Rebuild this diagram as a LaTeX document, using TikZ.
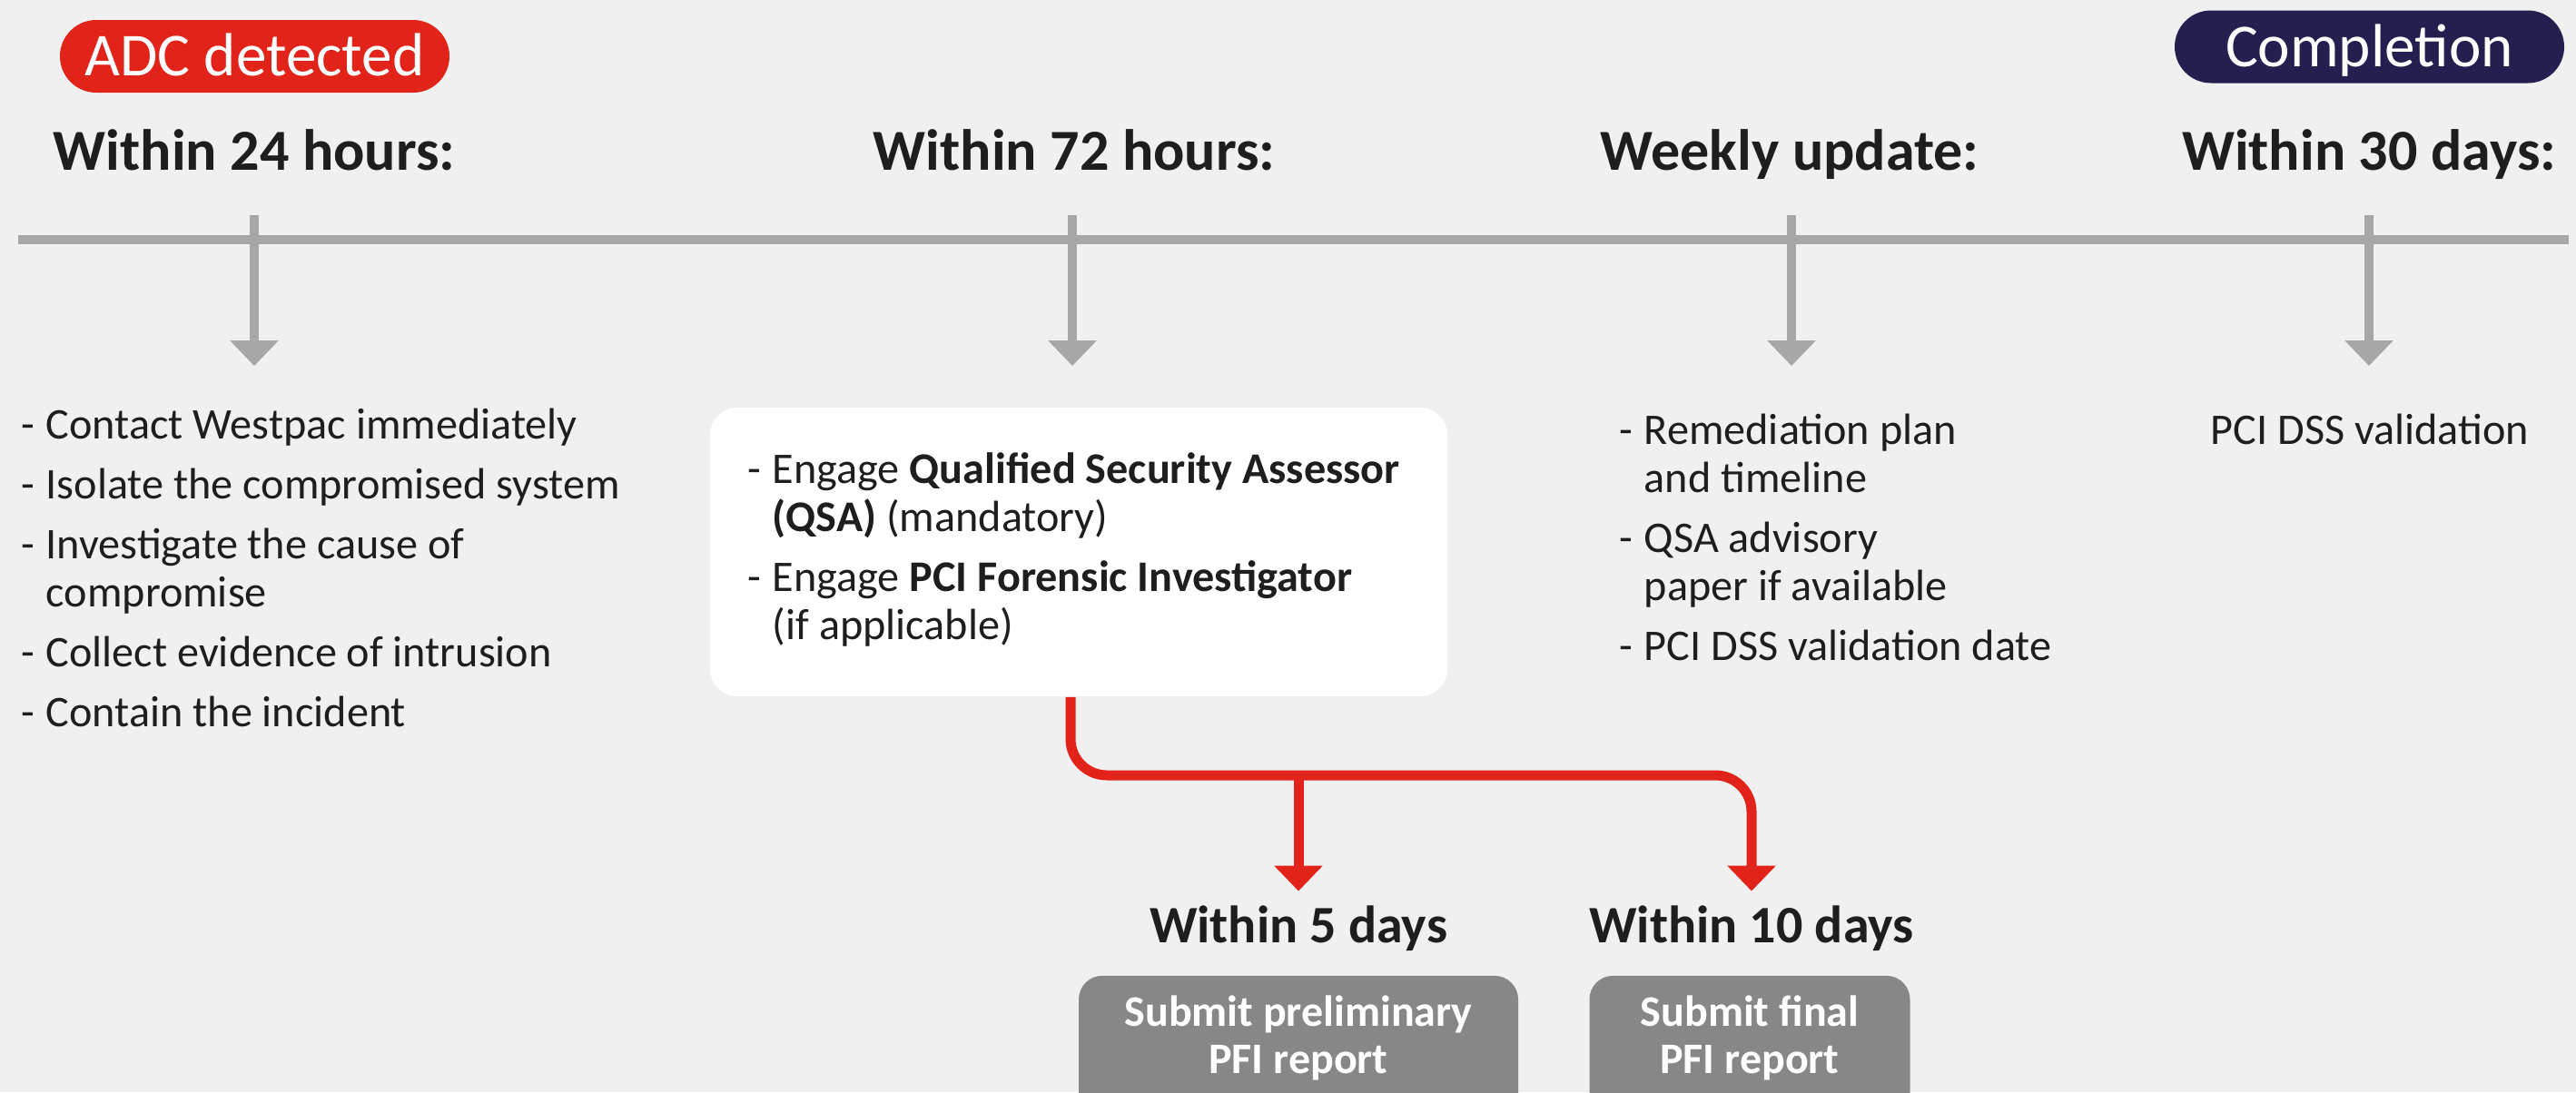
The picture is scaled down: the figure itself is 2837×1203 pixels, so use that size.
\documentclass[tikz,border=0pt]{standalone}
\usepackage{fontspec}
\setmainfont{Carlito}
\usetikzlibrary{arrows.meta,calc}
\definecolor{bg}{HTML}{F0F0F0}
\definecolor{ink}{HTML}{1E1E1E}
\definecolor{lgrey}{HTML}{A7A7A7}
\definecolor{wred}{HTML}{E2231A}
\definecolor{navy}{HTML}{23204F}
\definecolor{boxgrey}{HTML}{878787}
\newcommand{\mydash}{\makebox[6.75pt][l]{-}}
\newcommand{\myind}{\hspace*{6.75pt}}
\newcommand{\mystrut}{\rule{0pt}{10pt}}
\tikzset{
  bodytxt/.style={inner sep=0pt, text=ink, align=left, anchor=north west,
    font=\fontsize{12.05}{13.25}\selectfont},
  hdr/.style={inner sep=0pt, text=ink, anchor=base,
    font=\bfseries\fontsize{16}{19}\selectfont},
  sublabel/.style={inner sep=0pt, text=ink, anchor=base,
    font=\bfseries\fontsize{14.5}{17}\selectfont},
  pill/.style={rounded corners=10pt, minimum width=107.25pt, minimum height=20pt,
    inner sep=0pt, text=white, font=\fontsize{16.8}{19}\selectfont,
    text height=10.8pt, text depth=0pt},
  greybox/.style={fill=boxgrey, rounded corners=6.5pt, inner sep=0pt,
    minimum height=45pt, anchor=north},
  greytxt/.style={inner sep=0pt, text=white, align=center, anchor=north,
    font=\bfseries\fontsize{12}{13}\selectfont},
  tick/.style={draw=lgrey, line width=2.5pt, -{Triangle[width=13pt,length=7pt]}},
  redline/.style={draw=wred, line width=2.75pt},
  redarrow/.style={redline, -{Triangle[width=13pt,length=7pt]}, shorten >=3.75pt},
}
\begin{document}
\begin{tikzpicture}[x=0.25pt,y=-0.25pt]
\path[fill=bg] (0,0) rectangle (2837,1203);
\useasboundingbox (0,0) rectangle (2837,1203);
\clip (0,0) rectangle (2837,1203);

% timeline
\coordinate (tl0) at (20,264);
\coordinate (tl1) at (2829,264);
\draw[lgrey, line width=2.5pt] (tl0) -- (tl1);

% tick coordinates
\coordinate (c24) at (280,237);  \coordinate (e24) at (280,403);
\coordinate (c72) at (1181,237); \coordinate (e72) at (1181,403);
\coordinate (cwk) at (1973,237); \coordinate (ewk) at (1973,403);
\coordinate (c30) at (2609,237); \coordinate (e30) at (2609,403);
\draw[tick] (c24) -- (e24);
\draw[tick] (c72) -- (e72);
\draw[tick] (cwk) -- (ewk);
\draw[tick] (c30) -- (e30);

% pills
\node[pill, fill=wred] (adc) at (280.5,62) {ADC detected};
\node[pill, fill=navy] (compl) at (2609.5,51.5) {Completion};

% headers
\node[hdr] (h24) at (280,187) {Within 24 hours:};
\node[hdr] (h72) at (1183,187) {Within 72 hours:};
\node[hdr] (hwk) at (1971,187) {Weekly update:};
\node[hdr] (h30) at (2609,187) {Within 30 days:};

% left list
\node[bodytxt] (list24) at (23,443) {\mystrut\mydash Contact Westpac immediately\\[3.25pt]
\mydash Isolate the compromised system\\[3.25pt]
\mydash Investigate the cause of\\
\myind compromise\\[3.25pt]
\mydash Collect evidence of intrusion\\[3.25pt]
\mydash Contain the incident};

% white box
\node[fill=white, rounded corners=7.5pt, minimum width=203pt, minimum height=79.5pt,
  inner sep=0pt] (qsa) at (1188,608) {};
\node[bodytxt] (qsatxt) at (823,492) {\mystrut\mydash Engage \textbf{Qualified Security Assessor}\\
\myind\textbf{(QSA)} (mandatory)\\[3.25pt]
\mydash Engage \textbf{PCI Forensic Investigator}\\
\myind(if applicable)};

% weekly list
\node[bodytxt] (listwk) at (1783,449) {\mystrut\mydash Remediation plan\\
\myind and timeline\\[3.25pt]
\mydash QSA advisory\\
\myind paper if available\\[3.25pt]
\mydash PCI DSS validation date};

% 30 days
\node[inner sep=0pt, text=ink, anchor=base, font=\fontsize{12.05}{13.25}\selectfont]
  (pci) at (2610,489) {PCI DSS validation};

% bottom labels
\node[sublabel] (lab5) at (1430,1038) {Within 5 days};
\node[sublabel] (lab10) at (1929,1038) {Within 10 days};

% red connectors
\coordinate (bus) at (0,854);
\draw[redarrow, rounded corners=10pt] (qsa.south -| 1179,0) -- (1179,854) -| (lab10.north);
\draw[redarrow] (lab5.north |- bus) -- (lab5.north);

% grey boxes
\node[greybox, minimum width=121pt] (sub1) at (1430,1074) {};
\node[greybox, minimum width=88.25pt] (sub2) at (1927,1074) {};
\node[greytxt] (sub1t) at (1430,1090) {\mystrut Submit preliminary\\PFI report};
\node[greytxt] (sub2t) at (1927,1090) {\mystrut Submit final\\PFI report};
\end{tikzpicture}
\end{document}
